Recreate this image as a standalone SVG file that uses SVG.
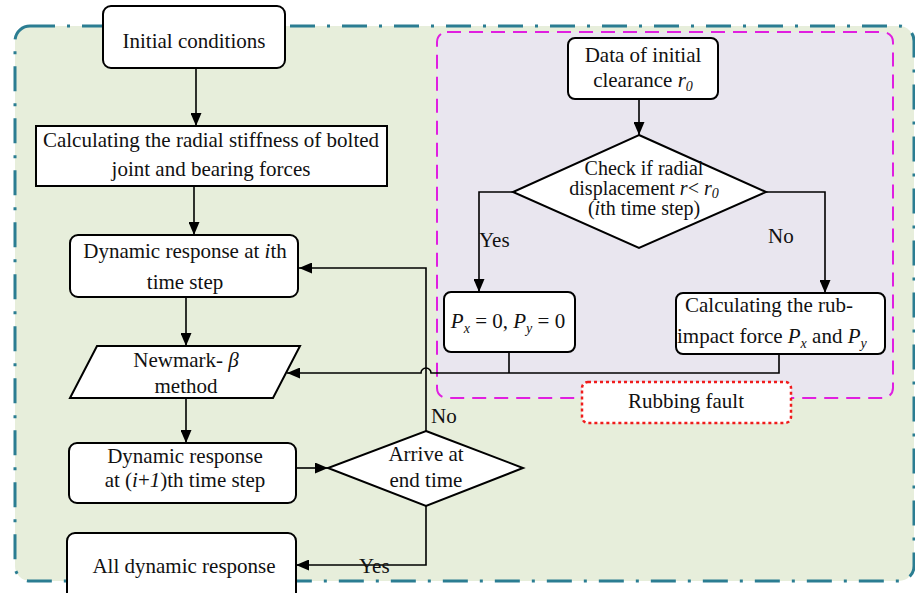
<svg xmlns="http://www.w3.org/2000/svg" width="915" height="593" viewBox="0 0 915 593">
<defs>
<marker id="arr" markerUnits="userSpaceOnUse" markerWidth="13" markerHeight="11" refX="13" refY="5.5" orient="auto">
<path d="M0,0 L13,5.5 L0,11 z" fill="#000"/>
</marker>
<style>
.t{font-family:"Liberation Serif","Times New Roman",serif;font-size:21px;fill:#111;}
.d{font-size:20px;}
.m{text-anchor:middle;}
.i{font-style:italic;}
.s{font-size:14px;font-style:italic;}
.box{fill:#fff;stroke:#000;stroke-width:2;}
.c{fill:none;stroke:#000;stroke-width:1.6;}
.ca{fill:none;stroke:#000;stroke-width:1.6;marker-end:url(#arr);}
</style>
</defs>
<rect width="915" height="593" fill="#fff"/>
<g id="outer-region">
<rect x="15" y="26" width="899" height="555" rx="15" fill="#E7EEDB" stroke="#2B7D92" stroke-width="3" stroke-dasharray="25,12,3,12"/>
</g>
<g id="rub-region">
<rect x="437" y="32" width="456" height="366" rx="10" fill="#E9E6EF" stroke="#E01FE0" stroke-width="2" stroke-dasharray="14,8"/>
</g>
<g id="connectors">
<path class="ca" d="M196,68 V126"/>
<path class="ca" d="M194,186 V235"/>
<path class="ca" d="M186,297 V346"/>
<path class="ca" d="M186,398 V443"/>
<path class="ca" d="M296,468 H328"/>
<path class="ca" d="M426,506 V565 H296"/>
<path class="ca" d="M426,431 V268 H299"/>
<path class="ca" d="M639,99 V135"/>
<path class="ca" d="M513,192 H479 V292"/>
<path class="ca" d="M766,192 H825 V293"/>
<path class="c" d="M509,352 V373"/>
<path class="ca" d="M779,354 V373 H431 A5,5 0 0 0 421,373 H287"/>
<text class="t" x="479" y="247">Yes</text>
<text class="t" x="768" y="243">No</text>
<text class="t" x="431" y="423">No</text>
<text class="t" x="359" y="573">Yes</text>
</g>
<g id="initial">
<rect class="box" x="103" y="6" width="182" height="62" rx="8"/>
<text class="t m" x="194" y="48">Initial conditions</text>
</g>
<g id="stiffness">
<rect class="box" x="36" y="126" width="351" height="60"/>
<text class="t m" x="211" y="147">Calculating the radial stiffness of bolted</text>
<text class="t m" x="211" y="176">joint and bearing forces</text>
</g>
<g id="resp-i">
<rect class="box" x="70" y="235" width="228" height="62" rx="8"/>
<text class="t m" x="185" y="258">Dynamic response at <tspan class="i">i</tspan>th</text>
<text class="t m" x="185" y="289">time step</text>
</g>
<g id="newmark">
<polygon class="box" points="97,346 300,346 273,398 70,398"/>
<text class="t m" x="186" y="367">Newmark- <tspan class="i">β</tspan></text>
<text class="t m" x="186" y="393">method</text>
</g>
<g id="resp-i1">
<rect class="box" x="69" y="443" width="227" height="60" rx="8"/>
<text class="t m" x="185" y="463">Dynamic response</text>
<text class="t m" x="185" y="487">at (<tspan class="i">i</tspan>+<tspan class="i">1</tspan>)th time step</text>
</g>
<g id="arrive">
<polygon class="box" points="426,431 523,468 426,506 328,468"/>
<text class="t m" x="426" y="461">Arrive at</text>
<text class="t m" x="426" y="487">end time</text>
</g>
<g id="all-resp">
<rect class="box" x="67" y="533" width="229" height="70" rx="8"/>
<text class="t m" x="184" y="573">All dynamic response</text>
</g>
<g id="clearance">
<rect class="box" x="568" y="38" width="150" height="61" rx="7"/>
<text class="t m" x="643" y="62">Data of initial</text>
<text class="t m" x="643" y="87">clearance <tspan class="i">r</tspan><tspan class="s" dy="4">0</tspan></text>
</g>
<g id="check">
<polygon class="box" points="639,135 766,192 639,248 513,192"/>
<text class="t d m" x="644" y="175">Check if radial</text>
<text class="t d m" x="644" y="195">displacement <tspan class="i">r</tspan>&lt; <tspan class="i">r</tspan><tspan class="s" dy="3">0</tspan></text>
<text class="t d m" x="644" y="215">(<tspan class="i">i</tspan>th time step)</text>
</g>
<g id="zero-force">
<rect class="box" x="444" y="292" width="131" height="60" rx="7"/>
<text class="t m" x="508" y="328"><tspan class="i">P</tspan><tspan class="s" dy="5">x</tspan><tspan dy="-5"> = 0, </tspan><tspan class="i">P</tspan><tspan class="s" dy="5">y</tspan><tspan dy="-5"> = 0</tspan></text>
</g>
<g id="rub-force">
<rect class="box" x="676" y="293" width="209" height="61" rx="7"/>
<text class="t" x="685" y="312">Calculating the rub-</text>
<text class="t" x="677" y="343">impact force <tspan class="i">P</tspan><tspan class="s" dy="5">x</tspan><tspan dy="-5"> and </tspan><tspan class="i">P</tspan><tspan class="s" dy="5">y</tspan></text>
</g>
<g id="rubbing-fault">
<rect x="582" y="382" width="209" height="41" rx="6" fill="#fff" stroke="#F01C1C" stroke-width="2.5" stroke-dasharray="3,3"/>
<text class="t m" x="686" y="408">Rubbing fault</text>
</g>
</svg>
